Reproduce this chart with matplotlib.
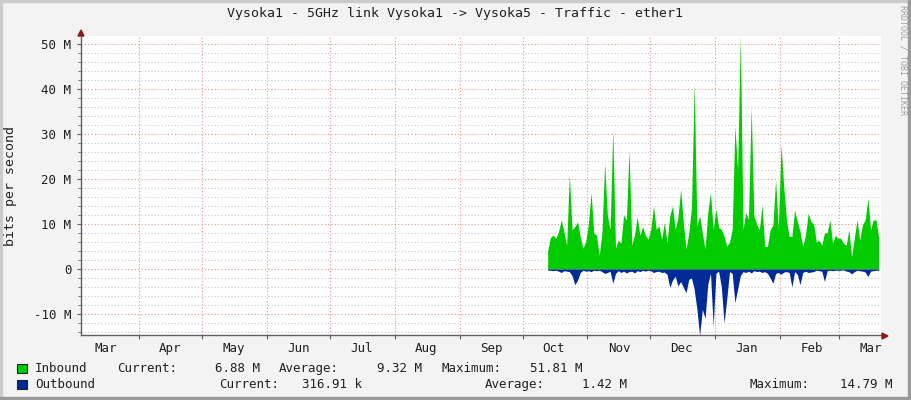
import numpy as np
import pandas as pd
import matplotlib
matplotlib.use('Agg')
import matplotlib.pyplot as plt
import matplotlib.dates as mdates
from matplotlib.ticker import MultipleLocator, FuncFormatter
from matplotlib.patches import Rectangle

# traffic in Mbit/s, samples from mid Oct to the end of the graph
inbound = [4, 7, 7.5, 6.8, 8.3, 10.9, 8.3, 5.3, 21, 8.7, 9.4, 10.5, 7.2, 4.6, 6, 10,
           17, 8, 7.5, 3, 8, 23.5, 12, 8.7, 31, 4.6, 6.4, 5.7, 12, 10.9, 26.4, 5.3,
           7.5, 11.6, 7.5, 9.4, 7.5, 6.6, 8.8, 14, 8.8, 9.6, 6.6, 10.3, 5.9, 11.8, 14, 8.8,
           11.4, 17.7, 10.3, 4.4, 8, 13.6, 41.4, 9.6, 11.8, 8, 4.4, 12.5, 17, 8.8, 13.3, 9.2,
           8.8, 7.3, 5.1, 5.9, 8.8, 31.8, 22, 51.8, 8.8, 12.5, 11, 36, 11.8, 10, 8.7, 14.2,
           5, 5, 8.7, 9.8, 19.8, 9, 27.6, 18.3, 10.9, 7.2, 7.2, 13.1, 10.5, 8.3, 5, 7.5,
           12.4, 10.5, 10, 6, 6.4, 5.3, 8, 8, 10.9, 5.7, 7.5, 6.8, 6.8, 5.7, 5.3, 8.7,
           2.7, 6.8, 10.9, 6.4, 9.8, 10.9, 15.7, 8.7, 10.9, 10.9, 6.88]
outbound = [0.3, 0.3, 0.4, 0.3, 0.5, 0.8, 0.4, 0.5, 0.6, 1.5, 3.5, 2.5, 0.8, 0.3, 0.5, 0.4,
            0.6, 0.3, 0.4, 0.3, 0.6, 1.0, 0.8, 0.5, 3.2, 1.0, 0.4, 0.8, 0.5, 0.9, 0.6, 0.5,
            0.9, 0.4, 0.6, 0.3, 0.5, 0.3, 0.4, 0.8, 0.6, 0.5, 0.8, 0.7, 1.2, 4.1, 2.5, 1.6,
            3.8, 2.8, 4.1, 5.3, 2.3, 2.0, 4.5, 9.0, 14.79, 9.0, 11.0, 3.4, 1.0, 12.7, 1.0, 0.5,
            4.0, 12.0, 6.7, 0.6, 1.0, 7.5, 4.5, 1.5, 0.6, 0.8, 0.5, 0.9, 0.4, 0.6, 0.5, 0.8,
            0.6, 1.0, 2.0, 3.2, 1.0, 0.8, 1.2, 0.7, 0.6, 0.8, 4.0, 0.6, 1.2, 3.5, 0.8, 0.5,
            0.8, 0.7, 0.6, 0.3, 0.4, 0.5, 2.8, 0.4, 0.3, 0.4, 0.3, 0.3, 0.3, 0.2, 0.5, 0.6,
            1.1, 0.6, 0.3, 0.4, 0.5, 0.7, 1.7, 0.5, 0.4, 0.3, 0.32]
start = '2017-10-13'
end = '2018-03-20'
months = ['Mar', 'Apr', 'May', 'Jun', 'Jul', 'Aug', 'Sep', 'Oct', 'Nov', 'Dec', 'Jan', 'Feb', 'Mar']

dates = pd.date_range(start, end, periods=len(inbound))
out_neg = [-v for v in outbound]

W, H = 911, 400
fig = plt.figure(figsize=(W / 100, H / 100), dpi=100, facecolor='#F3F3F3')
mono = 'DejaVu Sans Mono'

ax = fig.add_axes([81 / W, 65 / H, 800 / W, 299 / H])
ax.set_facecolor('white')

ax.fill_between(dates, 0, inbound, color='#00CC00', linewidth=0, zorder=3)
ax.fill_between(dates, 0, out_neg, color='#002A97', linewidth=0, zorder=3)

x0 = pd.Timestamp('2017-03-04 07:00')
x1 = pd.Timestamp('2018-03-21 02:00')
ax.set_xlim(x0, x1)
ax.set_ylim(-14.7, 51.8)

# grid
ax.yaxis.set_major_locator(MultipleLocator(10))
ax.yaxis.set_minor_locator(MultipleLocator(2))
ax.xaxis.set_major_locator(mdates.MonthLocator())
ax.xaxis.set_major_formatter(plt.NullFormatter())
ax.set_axisbelow(True)
ax.grid(True, which='major', axis='both', color='#F09090', linestyle=(0, (1, 2)), linewidth=0.8)
ax.grid(True, which='minor', axis='y', color='#C8C8C8', linestyle=(0, (1, 2)), linewidth=0.8)


def fmt(v, pos):
    if abs(v) < 1e-9:
        return '0'
    return '%d M' % v


ax.yaxis.set_major_formatter(FuncFormatter(fmt))
ax.tick_params(axis='y', which='major', length=3, labelsize=9, color='#606060', pad=4,
               labelcolor='#202020')
ax.tick_params(axis='y', which='minor', length=2, color='#606060')
ax.tick_params(axis='x', which='major', length=3, color='#606060')
for lab in ax.get_yticklabels():
    lab.set_family(mono)

# month labels in the middle of each month
mid = pd.date_range('2017-03-01', periods=len(months), freq='MS') + pd.Timedelta(days=15)
for d, name in zip(mid, months):
    d = min(d, x1 - pd.Timedelta(days=5))
    ax.text(d, -0.025, name, transform=ax.get_xaxis_transform(), ha='center', va='top',
            fontsize=9, family=mono, color='#202020')

for s in ['top', 'right']:
    ax.spines[s].set_visible(False)
for s in ['left', 'bottom']:
    ax.spines[s].set_color('#606060')
    ax.spines[s].set_linewidth(1)
    ax.spines[s].set_zorder(5)

# arrows
fig.patches.append(plt.Polygon([[78 / W, 364 / H], [84 / W, 364 / H], [81 / W, 370 / H]],
                               closed=True, transform=fig.transFigure, color='#8B1A1A'))
fig.patches.append(plt.Polygon([[882 / W, 61 / H], [882 / W, 67 / H], [888 / W, 64 / H]],
                               closed=True, transform=fig.transFigure, color='#8B1A1A'))

fig.text(455 / W, 1 - 14 / H, 'Vysoka1 - 5GHz link Vysoka1 -> Vysoka5 - Traffic - ether1',
         ha='center', va='center', fontsize=9.5, family=mono, color='#202020')
fig.text(11 / W, 1 - 186 / H, 'bits per second', rotation=90, ha='center', va='center',
         fontsize=9.5, family=mono, color='#202020')
fig.text(903 / W, 1 - 60 / H, 'RRDTOOL / TOBI OETIKER', rotation=270, ha='center', va='center',
         fontsize=6, family=mono, color='#A0A0A0')

# legend
def t(x, y, s, ha='left'):
    fig.text(x / W, 1 - y / H, s, ha=ha, va='baseline', fontsize=9, family=mono, color='#202020')


fig.patches.append(Rectangle((17 / W, 1 - 373 / H), 10 / W, 9 / H, transform=fig.transFigure,
                             facecolor='#00CC00', edgecolor='#202020', linewidth=0.8))
fig.patches.append(Rectangle((17 / W, 1 - 389 / H), 10 / W, 9 / H, transform=fig.transFigure,
                             facecolor='#002A97', edgecolor='#202020', linewidth=0.8))
t(35, 372, 'Inbound')
t(117, 372, 'Current:')
t(260, 372, '6.88 M', 'right')
t(279, 372, 'Average:')
t(422, 372, '9.32 M', 'right')
t(441, 372, 'Maximum:')
t(583, 372, '51.81 M', 'right')
t(35, 388, 'Outbound')
t(219, 388, 'Current:')
t(362, 388, '316.91 k', 'right')
t(485, 388, 'Average:')
t(627, 388, '1.42 M', 'right')
t(749, 388, 'Maximum:')
t(893, 388, '14.79 M', 'right')

# frame
fig.patches.append(Rectangle((0, 0), 2 / W, 1, transform=fig.transFigure, color='#CBCBCB'))
fig.patches.append(Rectangle((0, 1 - 2 / H), 1, 2 / H, transform=fig.transFigure, color='#CBCBCB'))
fig.patches.append(Rectangle((1 - 3 / W, 0), 3 / W, 1, transform=fig.transFigure, color='#999999'))
fig.patches.append(Rectangle((0, 0), 1, 3 / H, transform=fig.transFigure, color='#999999'))

fig.savefig('out.png', dpi=100, facecolor=fig.get_facecolor())
